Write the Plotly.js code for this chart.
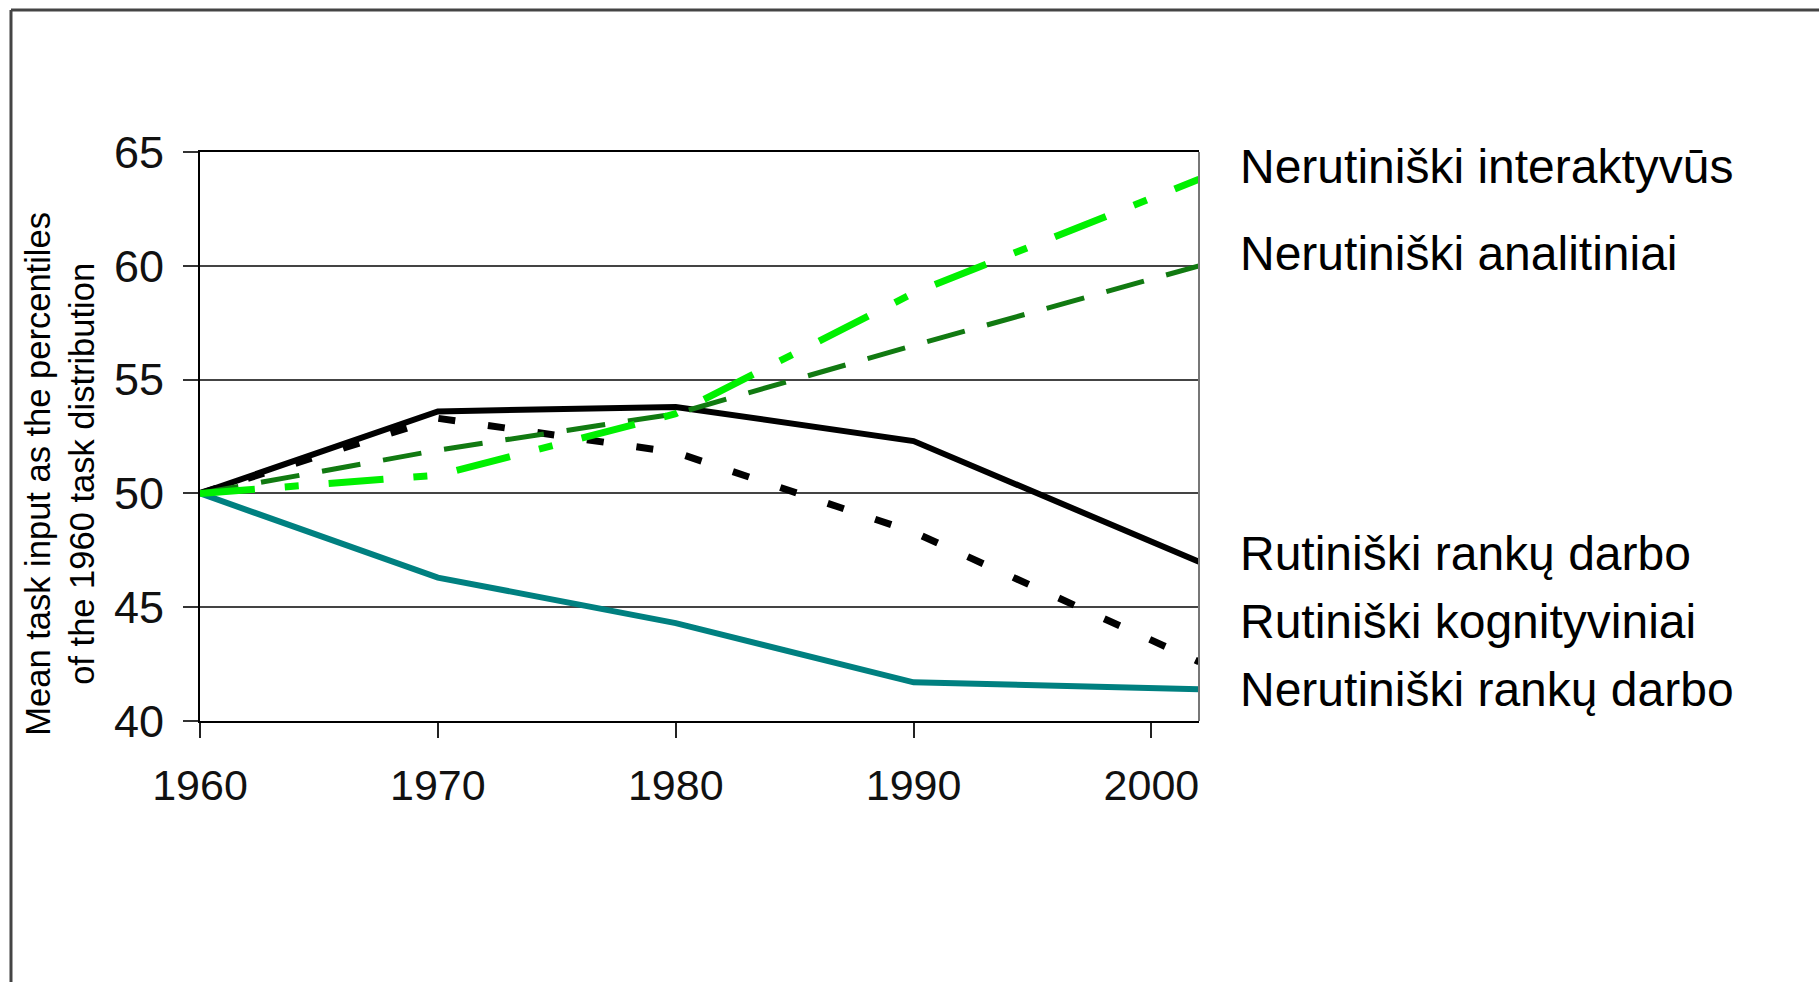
<!DOCTYPE html>
<html>
<head>
<meta charset="utf-8">
<script src="https://cdn.plot.ly/plotly-3.0.1.min.js"></script>
<style>
html,body{margin:0;padding:0;background:#fff;}
#chart{width:1819px;height:982px;}
</style>
</head>
<body>
<div id="chart"></div>
<script>
// Data
const years = [1960, 1970, 1980, 1990, 2002];
const nonroutineInteractive = [50, 50.8, 53.5, 58.8, 63.8];
const nonroutineAnalytic   = [50, 51.9, 53.5, 56.5, 60.0];
const routineManual        = [50, 53.6, 53.8, 52.3, 47.0];
const routineCognitive     = [50, 53.3, 51.8, 48.3, 42.6];
const nonroutineManual     = [50, 46.3, 44.3, 41.7, 41.4];

const seriesNames = [
  "Nerutiniški interaktyvūs",
  "Nerutiniški analitiniai",
  "Rutiniški rankų darbo",
  "Rutiniški kognityviniai",
  "Nerutiniški rankų darbo"
];
const xTickVals = [1960, 1970, 1980, 1990, 2000];
const yTickVals = [40, 45, 50, 55, 60, 65];
const yTitleLines = ["Mean task input as the percentiles", "of the 1960 task distribution"];

const FONT = "'Liberation Sans', Arial, Helvetica, sans-serif";

const traces = [
  {x: years, y: routineCognitive, name: seriesNames[3], mode: "lines",
   line: {color: "#000000", width: 7, dash: "17px,33px"}},
  {x: years, y: routineManual, name: seriesNames[2], mode: "lines",
   line: {color: "#000000", width: 6}},
  {x: years, y: nonroutineManual, name: seriesNames[4], mode: "lines",
   line: {color: "#008080", width: 6}},
  {x: years, y: nonroutineAnalytic, name: seriesNames[1], mode: "lines",
   line: {color: "#117a11", width: 5, dash: "39px,23px"}},
  {x: years, y: nonroutineInteractive, name: seriesNames[0], mode: "lines",
   line: {color: "#00f000", width: 7, dash: "55px,30px,14px,30px"}}
];

// label vertical positions in paper units (layout only)
const labelY = [0.974, 0.821, 0.2935, 0.1757, 0.0545];

const annotations = seriesNames.map((t, i) => ({
  text: t, xref: "paper", yref: "paper", x: 1.039, y: labelY[i],
  xanchor: "left", yanchor: "middle", showarrow: false,
  font: {family: FONT, size: 48, color: "#000"}
}));
annotations.push({
  text: yTitleLines.join("<br>"), xref: "paper", yref: "paper",
  x: -0.14, y: 0.435, xanchor: "center", yanchor: "middle",
  textangle: -90, showarrow: false,
  font: {family: FONT, size: 34.5, color: "#000"}
});

const layout = {
  width: 1819, height: 982,
  margin: {l: 200, r: 620, t: 152, b: 261, pad: 0},
  paper_bgcolor: "#fff", plot_bgcolor: "#fff",
  showlegend: false,
  font: {family: FONT, color: "#000"},
  xaxis: {
    range: [1960, 2002], tickvals: xTickVals, ticktext: xTickVals.map(String),
    showgrid: false, zeroline: false,
    showline: true, linecolor: "#000", linewidth: 2, mirror: true,
    ticks: "outside", ticklen: 15, tickwidth: 2, tickcolor: "#222",
    ticklabelstandoff: 10,
    tickfont: {family: FONT, size: 43, color: "#111"}
  },
  yaxis: {
    range: [40, 65], tickvals: yTickVals, ticktext: yTickVals.map(String),
    showgrid: true, gridcolor: "#444", gridwidth: 2, zeroline: false,
    showline: true, linecolor: "#000", linewidth: 2,
    ticks: "outside", ticklen: 15, tickwidth: 2, tickcolor: "#333",
    ticklabelstandoff: 10,
    tickfont: {family: FONT, size: 45, color: "#111"}
  },
  shapes: [
    // right plot border (gray)
    {type: "line", xref: "paper", yref: "paper", x0: 1, x1: 1, y0: 0, y1: 1,
     line: {color: "#777", width: 2}},
    // outer frame: top and left edges
    {type: "line", xref: "paper", yref: "paper", x0: -0.1892, x1: 1.63, y0: 1.2496, y1: 1.2496,
     line: {color: "#444", width: 3}},
    {type: "line", xref: "paper", yref: "paper", x0: -0.1892, x1: -0.1892, y0: 1.2496, y1: -0.47,
     line: {color: "#444", width: 3}}
  ],
  annotations: annotations
};

Plotly.newPlot("chart", traces, layout, {displayModeBar: false, staticPlot: true});
</script>
</body>
</html>
